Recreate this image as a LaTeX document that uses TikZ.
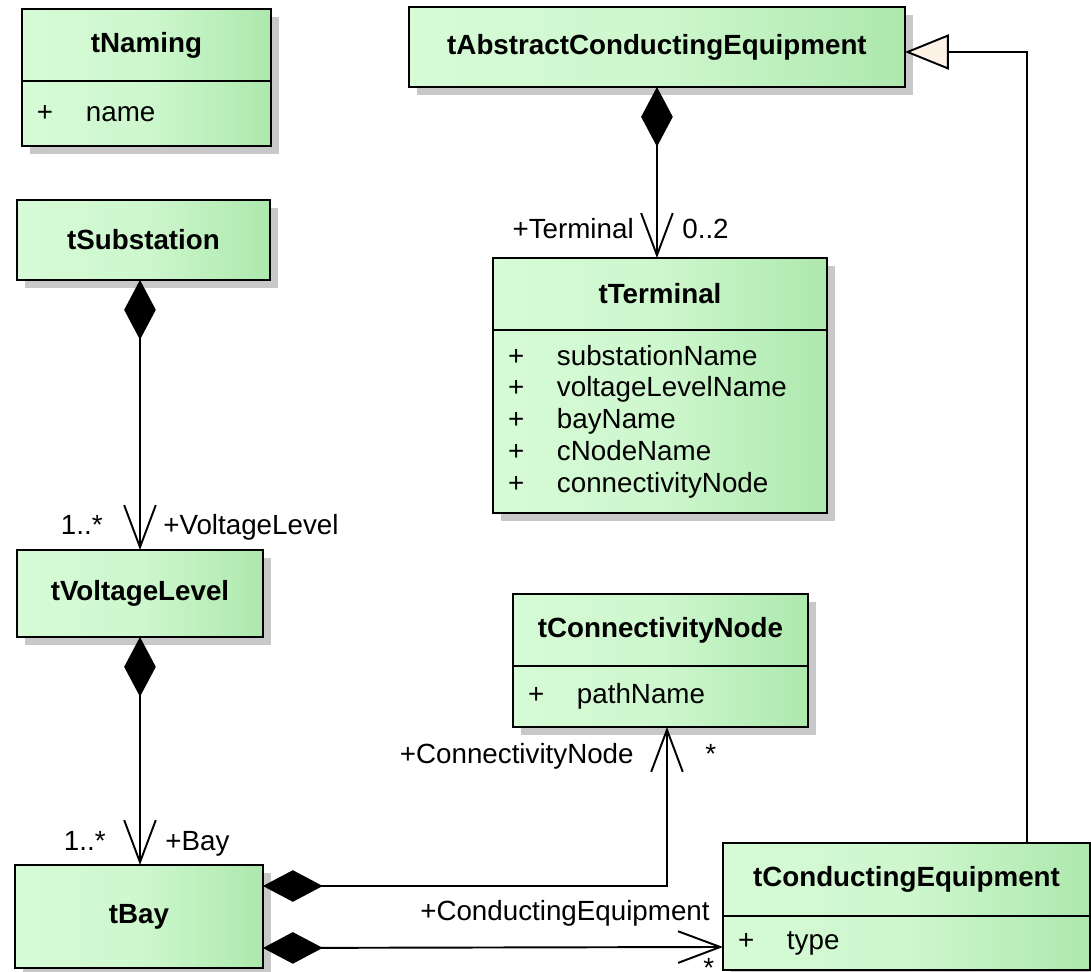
\documentclass[tikz,border=0pt]{standalone}
\usepackage{fontspec}
\setmainfont{Liberation Sans}
\usepackage{tikz}
\usetikzlibrary{arrows.meta,positioning,shadows}
\definecolor{Mint}{HTML}{D6FBD6}
\definecolor{Leaf}{HTML}{ADE8AD}
\definecolor{Cream}{HTML}{FCF3E6}
\definecolor{Shade}{HTML}{C8C8C8}
\newcommand\attr[1]{\makebox[0.98cm][l]{+}#1}

\begin{document}
\begin{tikzpicture}[x=0.02cm, y=-0.02cm,
    cls/.style={draw, line width=1.4pt, left color=Mint, right color=Leaf, middle color=Mint!80!Leaf,
      drop shadow={shadow xshift=0.16cm, shadow yshift=-0.16cm, fill=Shade, opacity=1},
      inner sep=0pt, outer sep=0pt, font=\fontsize{15.8}{18.1}\selectfont\bfseries},
    attrs/.style={cls, inner xsep=0.3cm, align=left, font=\fontsize{15.8}{18.1}\selectfont},
    comp/.style={line width=1.1pt, {Diamond[length=34pt,width=18pt]}-{Straight Barb[length=24pt,width=18pt]}},
    gen/.style={line width=1.1pt, -{Triangle[length=25pt,width=20pt,fill=Cream]}},
    lbl/.style={inner sep=0pt, font=\fontsize{15.8}{18.1}\selectfont}]
    \path[use as bounding box, fill=white] (0,0) rectangle (1091,972);

    \node[cls, anchor=north west, minimum width=4.98cm, minimum height=1.44cm] (naming) at (22,9) {tNaming};
    \node[attrs, below=0pt of naming, minimum width=4.98cm, minimum height=1.3cm, text width=4.38cm] (namingA) {\attr{name}};

    \node[cls, anchor=north west, minimum width=5.06cm, minimum height=1.6cm] (sub) at (17,200) {tSubstation};
    \node[cls, anchor=north west, minimum width=4.92cm, minimum height=1.74cm] (vl) at (17,550) {tVoltageLevel};
    \node[cls, anchor=north west, minimum width=4.96cm, minimum height=2.06cm] (bay) at (15,865) {tBay};

    \node[cls, anchor=north west, minimum width=9.92cm, minimum height=1.6cm] (abs) at (409,7) {tAbstractConductingEquipment};

    \node[cls, anchor=north west, minimum width=6.68cm, minimum height=1.44cm] (term) at (493,258) {tTerminal};
    \node[attrs, below=0pt of term, minimum width=6.68cm, minimum height=3.66cm, text width=6.08cm] (termA)
      {\attr{substationName}\\\attr{voltageLevelName}\\\attr{bayName}\\\attr{cNodeName}\\\attr{connectivityNode}};

    \node[cls, anchor=north west, minimum width=5.9cm, minimum height=1.44cm] (cn) at (513,594) {tConnectivityNode};
    \node[attrs, below=0pt of cn, minimum width=5.9cm, minimum height=1.22cm, text width=5.3cm] (cnA) {\attr{pathName}};

    \node[cls, anchor=north west, minimum width=7.34cm, minimum height=1.46cm] (ce) at (723,843) {tConductingEquipment};
    \node[attrs, below=0pt of ce, minimum width=7.34cm, minimum height=1.08cm, text width=6.74cm] (ceA) {\attr{type}};

    \draw[comp] (vl.north |- sub.south) -- (vl.north);
    \draw[comp] (vl.south) -- (vl.south |- bay.north);
    \draw[comp] (abs.south) -- (abs.south |- term.north);
    \draw[comp] ([yshift=0.61cm]bay.east) -| ([xshift=0.13cm]cnA.south);
    \draw[comp] ([yshift=-0.63cm]bay.east) -- ([yshift=-0.08cm]ceA.west);
    \draw[gen] ([xshift=2.41cm]ce.north) |- ([yshift=-0.1cm]abs.east);

    \node[lbl, anchor=base east] (termRole) at (634,239) {+Terminal};
    \node[lbl, anchor=base west] (termMult) at (682,239) {0..2};
    \node[lbl, anchor=base east] (vlMult) at (103,535) {1..*};
    \node[lbl, anchor=base west] (vlRole) at (163,535) {+VoltageLevel};
    \node[lbl, anchor=base east] (bayMult) at (106,850) {1..*};
    \node[lbl, anchor=base west] (bayRole) at (165,850) {+Bay};
    \node[lbl, anchor=base east] (cnRole) at (634,763) {+ConnectivityNode};
    \node[lbl, anchor=base west] (cnMult) at (705,763) {*};
    \node[lbl, anchor=base east] (ceRole) at (710,920) {+ConductingEquipment};
    \node[lbl, anchor=base west] (ceMult) at (703,977) {*};
\end{tikzpicture}
\end{document}
